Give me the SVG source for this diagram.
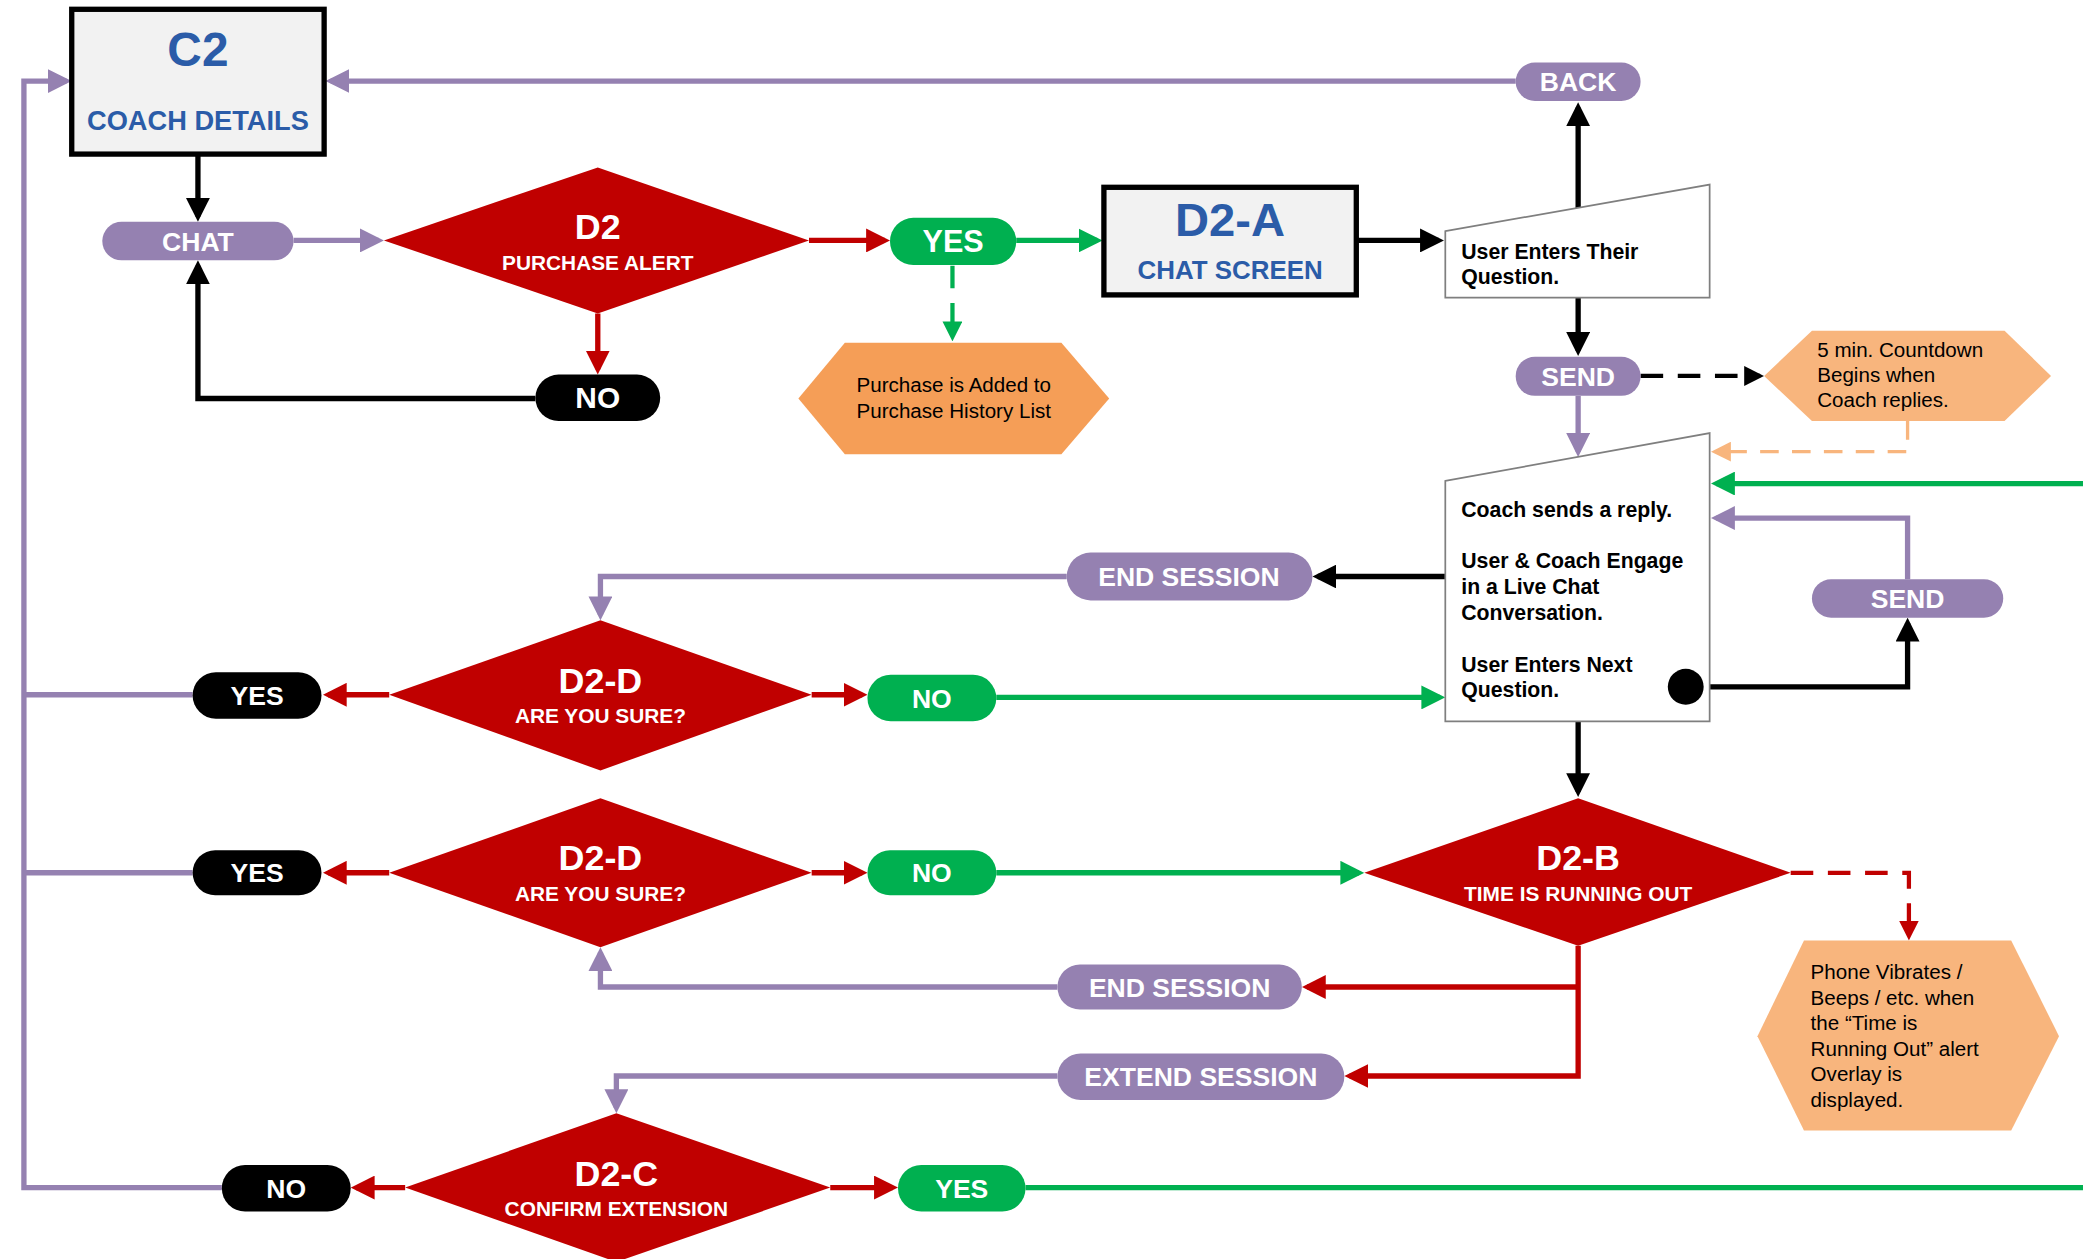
<svg xmlns="http://www.w3.org/2000/svg" width="2083" height="1259" viewBox="0 0 2083 1259">
<style>
text{font-family:"Liberation Sans",Arial,sans-serif}
.w{fill:#fff;font-weight:bold;text-anchor:middle}
.bl{fill:#2B5CA8;font-weight:bold;text-anchor:middle}
.bk{fill:#000;font-weight:bold;font-size:16px}
.rg{fill:#000;font-size:15.5px}
.pu{fill:#9581B1}
.rd{fill:#C00000}
.gr{fill:#00B050}
.blk{fill:#000}
.box{fill:#F2F2F2;stroke:#000;stroke-width:4}
.man{fill:#fff;stroke:#7F7F7F;stroke-width:1.3}
.c{fill:none;stroke-width:4;stroke-linejoin:miter}
.cb{stroke:#000;marker-end:url(#hb)}
.cp{stroke:#9581B1;marker-end:url(#hp)}
.cr{stroke:#C00000;marker-end:url(#hr)}
.cg{stroke:#00B050;marker-end:url(#hg)}
.d{fill:none;stroke-width:3.2;stroke-dasharray:17 11}
</style>
<defs>
<marker id="hb" markerUnits="userSpaceOnUse" markerWidth="18" markerHeight="18" refX="14" refY="9" orient="auto"><path d="M0,0L18,9L0,18z" fill="#000"/></marker>
<marker id="hp" markerUnits="userSpaceOnUse" markerWidth="18" markerHeight="18" refX="14" refY="9" orient="auto"><path d="M0,0L18,9L0,18z" fill="#9581B1"/></marker>
<marker id="hr" markerUnits="userSpaceOnUse" markerWidth="18" markerHeight="18" refX="14" refY="9" orient="auto"><path d="M0,0L18,9L0,18z" fill="#C00000"/></marker>
<marker id="hg" markerUnits="userSpaceOnUse" markerWidth="18" markerHeight="18" refX="14" refY="9" orient="auto"><path d="M0,0L18,9L0,18z" fill="#00B050"/></marker>
<marker id="db" markerUnits="userSpaceOnUse" markerWidth="15" markerHeight="15" refX="12" refY="7.5" orient="auto"><path d="M0,0L15,7.5L0,15z" fill="#000"/></marker>
<marker id="dr" markerUnits="userSpaceOnUse" markerWidth="15" markerHeight="15" refX="12" refY="7.5" orient="auto"><path d="M0,0L15,7.5L0,15z" fill="#C00000"/></marker>
<marker id="dg" markerUnits="userSpaceOnUse" markerWidth="15" markerHeight="15" refX="12" refY="7.5" orient="auto"><path d="M0,0L15,7.5L0,15z" fill="#00B050"/></marker>
<marker id="do" markerUnits="userSpaceOnUse" markerWidth="15" markerHeight="15" refX="12" refY="7.5" orient="auto"><path d="M0,0L15,7.5L0,15z" fill="#F8B57D"/></marker>
</defs>
<rect width="2083" height="1259" fill="#fff"/>
<g transform="scale(1.3284)">
<g id="connectors">
<path class="c cb" d="M149,117V163"/>
<path class="c cb" d="M403,300H149V200"/>
<path class="c cb" d="M1022,181H1083"/>
<path class="c cb" d="M1188,158V81"/>
<path class="c cb" d="M1188,224V264"/>
<path class="d" stroke="#000" marker-end="url(#db)" d="M1235,283H1325"/>
<path class="c cb" d="M1088,434H992"/>
<path class="c cb" d="M1269,517H1436V469"/>
<path class="c cb" d="M1188,543V596"/>
<path class="c cp" d="M221,181H285"/>
<path class="c cp" d="M1141,61H249"/>
<path class="c cp" d="M167,894H18V61H50"/>
<path class="c" stroke="#9581B1" d="M145,523H18M145,657H18"/>
<path class="c cp" d="M1188,298V340"/>
<path class="c cp" d="M1436,436V390H1292"/>
<path class="c cp" d="M803,434H452V463"/>
<path class="c cp" d="M796,743H452V717"/>
<path class="c cp" d="M796,810H464V834"/>
<path class="c cr" d="M450,236V278"/>
<path class="c cr" d="M609,181H666"/>
<path class="c cr" d="M293,523H247"/>
<path class="c cr" d="M611,523H649"/>
<path class="c cr" d="M293,657H247"/>
<path class="c cr" d="M611,657H649"/>
<path class="c cr" d="M1188,712V810H1016"/>
<path class="c cr" d="M1188,743H984"/>
<path class="d" stroke="#C00000" marker-end="url(#dr)" d="M1348,657H1437V705"/>
<path class="c cr" d="M305,894H268"/>
<path class="c cr" d="M625,894H672"/>
<path class="c cg" d="M765,181H826"/>
<path class="d" stroke="#00B050" stroke-width="3" marker-end="url(#dg)" d="M717,200V254"/>
<path class="c cg" d="M750,525H1084"/>
<path class="c cg" d="M750,657H1023"/>
<path class="c" stroke="#00B050" d="M772,894H1572"/>
<path class="c cg" d="M1572,364H1292"/>
<path fill="none" stroke="#F8B57D" stroke-width="2.5" stroke-dasharray="14 10" marker-end="url(#do)" d="M1436,317V340H1291"/>
</g>
<g id="c2"><rect class="box" x="54" y="7" width="190" height="109"/><text class="bl" x="149" y="50" font-size="36">C2</text><text class="bl" x="149" y="97.5" font-size="20.5">COACH DETAILS</text></g>
<g id="chat"><rect class="pu" x="77" y="167" width="144" height="29" rx="14.5"/><text class="w" x="149" y="188.7" font-size="20">CHAT</text></g>
<g id="d2"><polygon class="rd" points="289,181 450,126 609,181 450,236"/><text class="w" x="450" y="180" font-size="27">D2</text><text class="w" x="450" y="203" font-size="15.7">PURCHASE ALERT</text></g>
<g id="no-d2"><rect class="blk" x="403" y="282" width="94" height="35" rx="17.5"/><text class="w" x="450" y="307.5" font-size="22.5">NO</text></g>
<g id="yes-d2"><rect class="gr" x="670" y="164" width="95" height="35.5" rx="17.5"/><text class="w" x="717.5" y="190" font-size="23">YES</text></g>
<g id="purchase"><polygon fill="#F59E57" points="601,300 636,258 799,258 835,300 799,342 636,342"/><text class="rg" x="718" y="295" font-size="16" text-anchor="middle">Purchase is Added to</text><text class="rg" x="718" y="314.5" font-size="16" text-anchor="middle">Purchase History List</text></g>
<g id="d2a"><rect class="box" x="831" y="141" width="190" height="81"/><text class="bl" x="926" y="177.5" font-size="35.5">D2-A</text><text class="bl" x="926" y="210.3" font-size="19.5">CHAT SCREEN</text></g>
<g id="enter-question"><polygon class="man" points="1088,174 1287,139 1287,224 1088,224"/><text class="bk" x="1100" y="195">User Enters Their</text><text class="bk" x="1100" y="214">Question.</text></g>
<g id="back"><rect class="pu" x="1141" y="47" width="94" height="29" rx="14.5"/><text class="w" x="1188" y="68.7" font-size="20">BACK</text></g>
<g id="send1"><rect class="pu" x="1141" y="268.5" width="94" height="29.5" rx="14.5"/><text class="w" x="1188" y="290.5" font-size="20">SEND</text></g>
<g id="countdown"><polygon fill="#F8B57D" points="1328,283 1364,249 1509,249 1544,283 1509,317 1364,317"/><text class="rg" x="1368" y="268.5" font-size="15">5 min. Countdown</text><text class="rg" x="1368" y="287.8" font-size="15">Begins when</text><text class="rg" x="1368" y="306.6" font-size="15">Coach replies.</text></g>
<g id="live-chat"><polygon class="man" points="1088,362 1287,326 1287,543 1088,543"/><text class="bk" x="1100" y="389">Coach sends a reply.</text><text class="bk" x="1100" y="427.7">User &amp; Coach Engage</text><text class="bk" x="1100" y="447.2">in a Live Chat</text><text class="bk" x="1100" y="466.7">Conversation.</text><text class="bk" x="1100" y="505.6">User Enters Next</text><text class="bk" x="1100" y="524.4">Question.</text><circle class="blk" cx="1269" cy="517" r="13.5"/></g>
<g id="send2"><rect class="pu" x="1364" y="436" width="144" height="29" rx="14.5"/><text class="w" x="1436" y="457.7" font-size="20">SEND</text></g>
<g id="end-session1"><rect class="pu" x="803" y="416" width="185" height="36" rx="18"/><text class="w" x="895" y="441.3" font-size="20">END SESSION</text></g>
<g id="d2d1"><polygon class="rd" points="293,523 452,467 611,523 452,580"/><text class="w" x="452" y="521.8" font-size="27">D2-D</text><text class="w" x="452" y="544.5" font-size="15.7">ARE YOU SURE?</text></g>
<g id="yes-d2d1"><rect class="blk" x="145" y="506" width="97" height="35" rx="17.5"/><text class="w" x="193.5" y="530.7" font-size="20">YES</text></g>
<g id="no-d2d1"><rect class="gr" x="653" y="508" width="97" height="35" rx="17.5"/><text class="w" x="701.5" y="532.7" font-size="20">NO</text></g>
<g id="d2d2"><polygon class="rd" points="293,657 452,601 611,657 452,713"/><text class="w" x="452" y="655" font-size="27">D2-D</text><text class="w" x="452" y="678" font-size="15.7">ARE YOU SURE?</text></g>
<g id="yes-d2d2"><rect class="blk" x="145" y="640" width="97" height="34" rx="17"/><text class="w" x="193.5" y="664.2" font-size="20">YES</text></g>
<g id="no-d2d2"><rect class="gr" x="653" y="640" width="97" height="34" rx="17"/><text class="w" x="701.5" y="664.2" font-size="20">NO</text></g>
<g id="d2b"><polygon class="rd" points="1027,657 1188,601 1348,657 1188,712"/><text class="w" x="1188" y="655" font-size="27">D2-B</text><text class="w" x="1188" y="678" font-size="15.7">TIME IS RUNNING OUT</text></g>
<g id="phone"><polygon fill="#F8B57D" points="1323,780 1358,708 1514,708 1550,780 1514,851 1358,851"/><text class="rg" x="1363" y="737">Phone Vibrates /</text><text class="rg" x="1363" y="756.2">Beeps / etc. when</text><text class="rg" x="1363" y="775.4">the “Time is</text><text class="rg" x="1363" y="794.6">Running Out” alert</text><text class="rg" x="1363" y="813.8">Overlay is</text><text class="rg" x="1363" y="833">displayed.</text></g>
<g id="end-session2"><rect class="pu" x="796" y="726" width="184" height="34" rx="17"/><text class="w" x="888" y="750.2" font-size="20">END SESSION</text></g>
<g id="extend-session"><rect class="pu" x="796" y="793" width="216" height="35" rx="17.5"/><text class="w" x="904" y="817.7" font-size="20">EXTEND SESSION</text></g>
<g id="d2c"><polygon class="rd" points="305,894 464,838 625,894 464,950"/><text class="w" x="464" y="892.8" font-size="27">D2-C</text><text class="w" x="464" y="915.4" font-size="15.7">CONFIRM EXTENSION</text></g>
<g id="no-d2c"><rect class="blk" x="167" y="877" width="97" height="35" rx="17.5"/><text class="w" x="215.5" y="901.7" font-size="20">NO</text></g>
<g id="yes-d2c"><rect class="gr" x="676" y="877" width="96" height="35" rx="17.5"/><text class="w" x="724" y="901.7" font-size="20">YES</text></g>
</g>
</svg>
